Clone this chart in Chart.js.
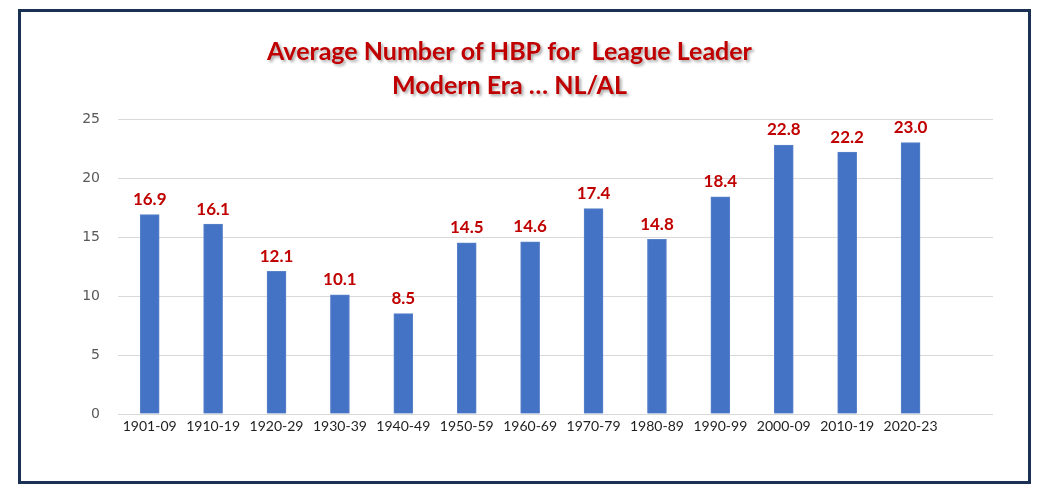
<!DOCTYPE html>
<html>
<head>
<meta charset="utf-8">
<script src="https://cdn.jsdelivr.net/npm/chart.js@4/dist/chart.umd.min.js"></script>
<style>
  html, body { margin: 0; padding: 0; background: #ffffff; }
  #wrap { position: relative; width: 1053px; height: 496px; }
  #frame { position: absolute; left: 18px; top: 9px; width: 1013px; height: 475px;
           box-sizing: border-box; border: 3px solid #1B3153; pointer-events: none; }
</style>
</head>
<body>
<div id="wrap">
  <canvas id="c" width="1053" height="496"></canvas>
  <div id="frame"></div>
</div>
<script>
const categories = ['1901-09','1910-19','1920-29','1930-39','1940-49','1950-59','1960-69','1970-79','1980-89','1990-99','2000-09','2010-19','2020-23'];
const hbpValues = [16.9, 16.1, 12.1, 10.1, 8.5, 14.5, 14.6, 17.4, 14.8, 18.4, 22.8, 22.2, 23.0];
const titleLines = ['Average Number of HBP for  League Leader', 'Modern Era \u2026 NL/AL'];
const yTicks = [0, 5, 10, 15, 20, 25];

const valueLabels = {
  id: 'valueLabels',
  afterDatasetsDraw(chart) {
    const ctx = chart.ctx;
    const meta = chart.getDatasetMeta(0);
    ctx.save();
    ctx.font = 'bold 17px Lato';
    ctx.fillStyle = '#C00000';
    ctx.textAlign = 'center';
    ctx.textBaseline = 'middle';
    meta.data.forEach((bar, i) => {
      ctx.fillText(hbpValues[i].toFixed(1), bar.x, bar.y - 15);
    });
    ctx.restore();
  }
};

const titleShadow = {
  id: 'titleShadow',
  afterLayout(chart) {
    const tb = chart.titleBlock;
    if (tb && !tb._shadowPatched) {
      const orig = tb.draw;
      tb.draw = function (...args) {
        const ctx = this.ctx;
        ctx.save();
        ctx.shadowColor = 'rgba(0,0,0,0.35)';
        ctx.shadowOffsetX = 2;
        ctx.shadowOffsetY = 2;
        ctx.shadowBlur = 3;
        orig.apply(this, args);
        ctx.restore();
      };
      tb._shadowPatched = true;
    }
  }
};

new Chart(document.getElementById('c'), {
  type: 'bar',
  data: {
    datasets: [{
      data: hbpValues.map((v, i) => ({ x: i, y: v })),
      backgroundColor: '#4472C4',
      borderColor: '#5A82C9',
      borderWidth: 1,
      barThickness: 19
    }]
  },
  options: {
    responsive: false,
    animation: false,
    layout: { padding: { left: 26, right: 60, top: 0, bottom: 60 } },
    plugins: {
      legend: { display: false },
      tooltip: { enabled: false },
      title: {
        display: true,
        text: titleLines,
        color: '#C00000',
        font: { family: 'Lato', size: 25, weight: 'bold', lineHeight: 1.36 },
        padding: { top: 35, bottom: 16 }
      }
    },
    scales: {
      x: {
        type: 'linear',
        offset: false,
        min: -0.5,
        max: 13.3,
        afterBuildTicks: s => { s.ticks = categories.map((_, i) => ({ value: i })); },
        afterFit: s => { s.height = 22; },
        grid: { display: false, drawTicks: false, offset: false },
        border: { display: false },
        ticks: {
          autoSkip: false,
          maxRotation: 0,
          padding: 4,
          color: '#1F1F1F',
          font: { family: 'Lato', size: 14 },
          callback: v => categories[v] ?? ''
        }
      },
      y: {
        min: 0,
        max: 25,
        afterBuildTicks: s => { s.ticks = yTicks.map(v => ({ value: v })); },
        afterFit: s => { s.width = 92; },
        grid: { color: '#D9D9D9', lineWidth: 1, drawTicks: false },
        border: { display: false },
        ticks: {
          padding: 18,
          color: '#595959',
          font: { family: 'DejaVu Sans', size: 14 }
        }
      }
    }
  },
  plugins: [valueLabels, titleShadow]
});
</script>
</body>
</html>
